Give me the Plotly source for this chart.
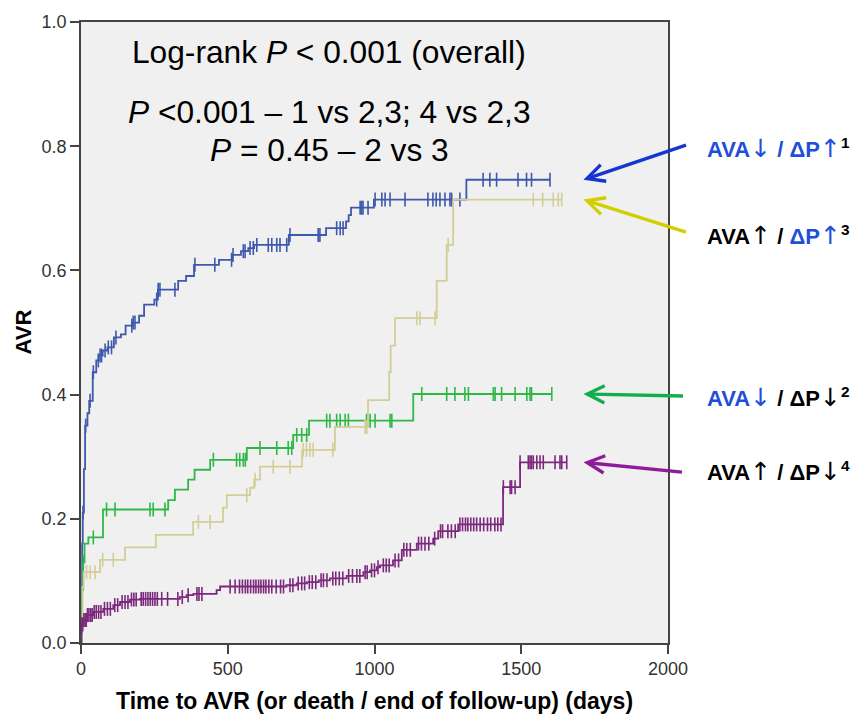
import numpy as np
import plotly.graph_objects as go

# Cumulative incidence of AVR by group: event times (days) and cumulative proportion
blue_t = [0, 2, 4, 6, 10, 14, 22, 28, 40, 52, 60, 74, 90, 112, 136, 152, 176, 198, 215, 250, 262,
          331, 358, 385, 470, 515, 545, 570, 590, 708, 835, 903, 912, 920, 998, 1313]
blue_y = [0, 0.08, 0.16, 0.21, 0.28, 0.35, 0.37, 0.39, 0.436, 0.455, 0.463, 0.471, 0.476, 0.492,
          0.497, 0.511, 0.516, 0.527, 0.545, 0.553, 0.569, 0.583, 0.591, 0.609, 0.617, 0.625, 0.631,
          0.636, 0.641, 0.657, 0.668, 0.679, 0.689, 0.701, 0.714, 0.746]
blue_cens = [7, 16, 31, 42, 59, 65, 70, 82, 93, 104, 119, 173, 178, 184, 258, 263, 269, 320, 388,
             456, 513, 518, 553, 559, 576, 587, 599, 638, 650, 667, 678, 701, 712, 808, 814, 871,
             883, 893, 951, 956, 961, 978, 1002, 1025, 1036, 1053, 1104, 1182, 1199, 1210, 1223,
             1240, 1257, 1263, 1291, 1370, 1393, 1416, 1489, 1518, 1535, 1598]

green_t = [0, 2, 4, 7, 12, 25, 75, 297, 320, 365, 387, 440, 565, 723, 777, 1132]
green_y = [0, 0.04, 0.085, 0.13, 0.16, 0.17, 0.215, 0.230, 0.247, 0.263, 0.279, 0.295, 0.314,
           0.335, 0.358, 0.401]
green_cens = [8, 42, 87, 116, 235, 246, 286, 451, 530, 541, 553, 560, 610, 667, 706, 718, 735, 752,
              769, 837, 848, 871, 883, 900, 911, 973, 985, 1002, 1053, 1059, 1161, 1246, 1274, 1308,
              1320, 1405, 1411, 1433, 1479, 1519, 1530, 1535, 1604]

yellow_t = [0, 2, 5, 9, 65, 150, 255, 382, 484, 497, 576, 590, 610, 753, 865, 978, 1050, 1055,
            1070, 1212, 1246, 1268]
yellow_y = [0, 0.04, 0.09, 0.114, 0.134, 0.154, 0.174, 0.195, 0.218, 0.238, 0.25, 0.263, 0.284,
            0.311, 0.348, 0.391, 0.436, 0.479, 0.523, 0.583, 0.641, 0.714]
yellow_cens = [19, 31, 48, 74, 110, 400, 440, 565, 593, 655, 712, 757, 768, 780, 791, 858, 968,
               974, 1144, 1155, 1206, 1251, 1541, 1573, 1609, 1626, 1638]

purple_t = [0, 1, 2, 8, 19, 42, 76, 110, 133, 167, 201, 337, 360, 383, 462, 474, 700, 735, 770,
            810, 848, 905, 962, 985, 1008, 1019, 1063, 1093, 1144, 1200, 1217, 1285, 1438, 1496]
purple_y = [0, 0.016, 0.03, 0.037, 0.045, 0.05, 0.055, 0.061, 0.066, 0.07, 0.071, 0.074, 0.077,
            0.079, 0.085, 0.091, 0.093, 0.096, 0.098, 0.101, 0.104, 0.108, 0.114, 0.117, 0.122,
            0.125, 0.133, 0.150, 0.160, 0.168, 0.180, 0.191, 0.251, 0.291]
purple_cens = [3, 6, 10, 14, 18, 22, 27, 33, 38, 45, 52, 60, 68, 80, 90, 100, 115, 125, 140, 150,
               160, 172, 180, 188, 205, 212, 220, 228, 236, 244, 252, 260, 275, 295, 330, 345, 365,
               395, 402, 412, 508, 525, 540, 550, 560, 568, 578, 588, 596, 605, 613, 622, 630, 640,
               650, 665, 680, 690, 712, 722, 740, 752, 762, 778, 788, 800, 818, 826, 838, 858, 868,
               880, 892, 912, 925, 940, 950, 968, 975, 990, 1000, 1012, 1030, 1040, 1050, 1070,
               1082, 1100, 1110, 1122, 1150, 1160, 1172, 1185, 1205, 1225, 1232, 1250, 1262, 1275,
               1291, 1300, 1310, 1318, 1328, 1338, 1348, 1360, 1372, 1385, 1396, 1410, 1420, 1431,
               1439, 1462, 1467, 1479, 1496, 1524, 1530, 1535, 1541, 1553, 1564, 1575, 1615, 1632,
               1638, 1655]

groups = [
    ("AVA\u2193 / \u0394P\u2191 (1)", blue_t, blue_y, blue_cens, "#3E58AC", "#1736CF"),
    ("AVA\u2193 / \u0394P\u2193 (2)", green_t, green_y, green_cens, "#2EB848", "#10AE4C"),
    ("AVA\u2191 / \u0394P\u2191 (3)", yellow_t, yellow_y, yellow_cens, "#D3CE97", "#D2CF00"),
    ("AVA\u2191 / \u0394P\u2193 (4)", purple_t, purple_y, purple_cens, "#7C287D", "#8E1B9B"),
]

BLUE_TXT = "#1F4FD8"
FONT = "Arial, Liberation Sans, sans-serif"

fig = go.Figure()

arrow_tails = [(104, -35), (101, 2), (104, 33), (100, 10)]

for (name, t, y, cens, col, arrow_col), (ax, ay) in zip(groups, arrow_tails):
    t = np.asarray(t, float)
    y = np.asarray(y, float)
    cens = np.asarray(cens, float)
    end = max(t[-1], cens.max())
    xs = np.append(t, end)
    ys = np.append(y, y[-1])
    fig.add_trace(go.Scatter(x=xs, y=ys, mode="lines", line=dict(color=col, width=1.8, shape="hv"),
                             name=name, showlegend=False, hoverinfo="skip"))
    # censored observations drawn on the step curve
    cy = y[np.searchsorted(t, cens, side="right") - 1]
    fig.add_trace(go.Scatter(x=cens, y=cy, mode="markers", name=name + " censored",
                             marker=dict(symbol="line-ns", size=10,
                                         line=dict(color=col, width=1.6)),
                             showlegend=False, hoverinfo="skip"))
    # arrow pointing at the end of each curve
    fig.add_annotation(x=1712, y=y[-1], xref="x", yref="y", text="", showarrow=True,
                       ax=ax, ay=ay, axref="pixel", ayref="pixel",
                       arrowhead=5, arrowsize=1.0, arrowwidth=3.4, arrowcolor=arrow_col,
                       standoff=0, startstandoff=0)


def span(txt, color):
    return f'<span style="color:{color}">{txt}</span>'


def arr(ch):
    # arrow glyphs taken from a font whose arrows reach cap height
    return f'<span style="font-family:DejaVu Sans;font-weight:normal;font-size:25px">{ch}</span>'


UP, DOWN = arr("\u2191"), arr("\u2193")
sup = lambda n: f'<sup>{n}</sup>'
labels = [
    (143, span(f"AVA{DOWN} / \u0394P{UP}", BLUE_TXT) + sup(1)),
    (230, f"AVA{UP} / " + span(f"\u0394P{UP}", BLUE_TXT) + sup(3)),
    (392, span(f"AVA{DOWN}", BLUE_TXT) + f" / \u0394P{DOWN}" + sup(2)),
    (466, f"AVA{UP} / \u0394P{DOWN}" + sup(4)),
]
for py, txt in labels:
    fig.add_annotation(x=1.0, y=1.0, xref="paper", yref="paper", xanchor="left", yanchor="middle",
                       xshift=705 - 668, yshift=-(py - 17), text="<b>" + txt + "</b>",
                       showarrow=False, font=dict(family=FONT, size=22, color="black"))

# statistics text inside the plot
stats = [
    (47, "Log-rank <i>P</i> < 0.001 (overall)"),
    (107, "<i>P</i> <0.001 \u2013 1 vs 2,3; 4 vs 2,3"),
    (145, "<i>P</i> = 0.45 \u2013 2 vs 3"),
]
for py, txt in stats:
    fig.add_annotation(x=(329 - 81) / (668 - 81), y=1.0, xref="paper", yref="paper",
                       xanchor="center", yanchor="middle", yshift=-(py - 17), text=txt,
                       showarrow=False, font=dict(family=FONT, size=31.7, color="black"))

# axis titles
fig.add_annotation(x=0.5, y=0, xref="paper", yref="paper", xanchor="center", yanchor="middle",
                   yshift=-(701 - 643), showarrow=False,
                   text="<b>Time to AVR (or death / end of follow-up) (days)</b>",
                   font=dict(family=FONT, size=23, color="black"))
fig.add_annotation(x=0, y=0.5, xref="paper", yref="paper", xanchor="center", yanchor="middle",
                   xshift=-(81 - 23), textangle=-90, showarrow=False, text="<b>AVR</b>",
                   font=dict(family=FONT, size=22, color="black"))

axis_common = dict(showline=True, mirror=True, linecolor="#444", linewidth=1.5,
                   ticks="outside", ticklen=9, tickwidth=1.5, tickcolor="#444",
                   showgrid=False, zeroline=False,
                   tickfont=dict(family=FONT, size=18, color="#333"))

fig.update_xaxes(range=[0, 2000], tickvals=[0, 500, 1000, 1500, 2000], **axis_common)
fig.update_yaxes(range=[0, 1.0], tickvals=[0, 0.2, 0.4, 0.6, 0.8, 1.0], tickformat=".1f",
                 **axis_common)

fig.update_layout(width=861, height=715, margin=dict(l=81, r=193, t=17, b=72),
                  plot_bgcolor="#F0F0F0", paper_bgcolor="white", showlegend=False)

fig.write_html("out.html")
